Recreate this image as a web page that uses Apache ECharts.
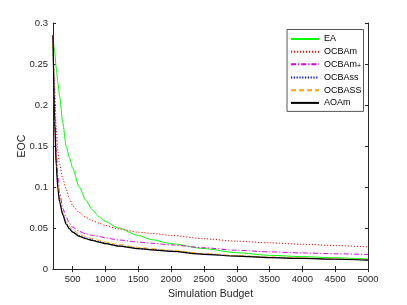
<!DOCTYPE html>
<html>
<head>
<meta charset="utf-8">
<script src="https://cdn.jsdelivr.net/npm/echarts@6/dist/echarts.min.js"></script>
<style>
html,body{margin:0;padding:0;background:#fff;}
#c{width:407px;height:305px;}
</style>
</head>
<body>
<div id="c"></div>
<script>
const budget = [200,225,250,275,300,350,400,450,500,600,700,800,900,1000,1200,1500,1700,2000,2500,3000,3500,4000,4500,5000];
const EA     = [0.285,0.265,0.245,0.227,0.211,0.178,0.150,0.136,0.123,0.100,0.084,0.072,0.064,0.058,0.050,0.041,0.036,0.031,0.025,0.020,0.0168,0.0152,0.0137,0.0122];
const OCBAm  = [0.285,0.220,0.170,0.143,0.128,0.110,0.098,0.086,0.077,0.069,0.063,0.059,0.056,0.053,0.049,0.045,0.0435,0.041,0.037,0.034,0.032,0.0303,0.0287,0.027];
const OCBAmP = [0.285,0.200,0.145,0.112,0.093,0.074,0.063,0.056,0.051,0.046,0.043,0.041,0.040,0.038,0.0355,0.033,0.0315,0.0295,0.026,0.023,0.021,0.0197,0.0187,0.0178];
const OCBAss = [0.285,0.185,0.130,0.100,0.084,0.067,0.056,0.050,0.046,0.041,0.038,0.0355,0.0335,0.0315,0.0285,0.0255,0.024,0.022,0.0185,0.016,0.0143,0.0132,0.0122,0.0112];
const OCBASS = [0.285,0.190,0.135,0.104,0.087,0.069,0.058,0.052,0.048,0.043,0.0395,0.037,0.035,0.033,0.030,0.0265,0.025,0.023,0.019,0.0165,0.0148,0.0136,0.0125,0.0115];
const AOAm   = [0.285,0.180,0.125,0.097,0.082,0.066,0.055,0.049,0.045,0.040,0.037,0.035,0.033,0.031,0.028,0.025,0.0235,0.0215,0.018,0.0158,0.014,0.013,0.012,0.011];
const xTicks = [500,1000,1500,2000,2500,3000,3500,4000,4500,5000];
const names = ['EA','OCBAm','OCBAm+','OCBAss','OCBASS','AOAm'];

const pairs = arr => budget.map((b,i)=>[b,arr[i]]);
const FONT = 'Liberation Sans';
const AX = '#262626';

function mk(name, arr, color, type, width) {
  return {
    name, type:'line', data:pairs(arr), symbol:'none', showSymbol:false,
    smooth:0.25, smoothMonotone:'x',
    lineStyle:{color, width, type}, itemStyle:{color}, z: 2
  };
}

const chart = echarts.init(document.getElementById('c'), null, {renderer:'canvas'});
const axisCommon = {
  axisLine:{show:true, lineStyle:{color:AX, width:1}},
  splitLine:{show:false}
};
chart.setOption({
  animation:false,
  backgroundColor:'#fff',
  textStyle:{fontFamily:FONT},
  grid:{left:53, right:39, top:23, bottom:34},
  legend:{
    orient:'vertical', left:287, top:29.5,
    padding:[5,2,4,3], itemWidth:28, itemHeight:8, itemGap:3.68,
    borderColor:'#555', borderWidth:1, backgroundColor:'#fff',
    itemStyle:{opacity:0},
    textStyle:{fontFamily:FONT, fontSize:9, color:'#000',
      rich:{sub:{fontFamily:FONT, fontSize:7, color:'#000', verticalAlign:'bottom', padding:[3,0,0,0]}}},
    formatter: n => n === 'OCBAm+' ? 'OCBAm{sub|+}' : n,
    data:names
  },
  xAxis:[
    Object.assign({}, axisCommon, {
      type:'value', min:200, max:5000, position:'bottom',
      name:'Simulation Budget', nameLocation:'middle', nameGap:17,
      nameTextStyle:{fontFamily:FONT, fontSize:10.5, color:AX},
      axisTick:{show:true, inside:true, length:3, customValues:xTicks, lineStyle:{color:AX}},
      axisLabel:{show:true, customValues:xTicks, formatter:v=>String(v), fontFamily:FONT, fontSize:9.5, color:AX, margin:5}
    }),
    Object.assign({}, axisCommon, {
      type:'value', min:200, max:5000, position:'top',
      axisTick:{show:true, inside:true, length:3, customValues:xTicks, lineStyle:{color:AX}},
      axisLabel:{show:false}
    })
  ],
  yAxis:[
    Object.assign({}, axisCommon, {
      type:'value', min:0, max:0.3, interval:0.05, position:'left',
      name:'EOC', nameLocation:'middle', nameGap:25, nameRotate:90, nameMoveOverlap:false,
      nameTextStyle:{fontFamily:FONT, fontSize:10.5, color:AX},
      axisTick:{show:true, inside:true, length:3, lineStyle:{color:AX}},
      axisLabel:{fontFamily:FONT, fontSize:9.5, color:AX, margin:5}
    }),
    Object.assign({}, axisCommon, {
      type:'value', min:0, max:0.3, interval:0.05, position:'right',
      axisTick:{show:true, inside:true, length:3, lineStyle:{color:AX}},
      axisLabel:{show:false}
    })
  ],
  series:[
    mk('EA', EA, '#00ff00', 'solid', 1),
    mk('OCBAm', OCBAm, '#ff0000', [1.2,1.8], 1),
    mk('OCBAm+', OCBAmP, '#e000e0', [5,2,1.2,2], 1),
    mk('OCBAss', OCBAss, '#0000ff', [1.2,1.6], 1),
    mk('OCBASS', OCBASS, '#ffa500', [5,3], 1),
    mk('AOAm', AOAm, '#000000', 'solid', 1.2)
  ]
});
</script>
</body>
</html>
